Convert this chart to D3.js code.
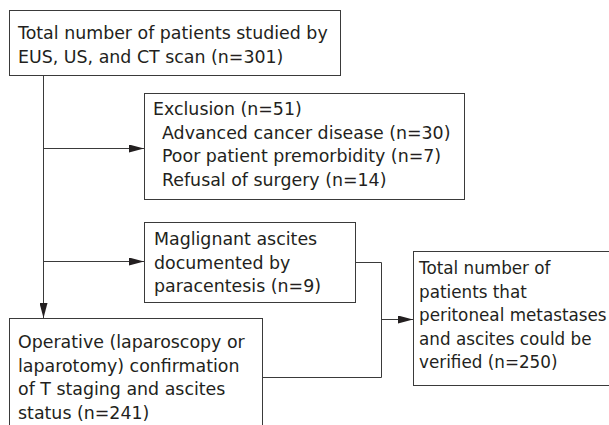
<!DOCTYPE html>
<html>
<head>
<meta charset="utf-8">
<script src="https://cdn.jsdelivr.net/npm/d3@7"></script>
<style>
  body { margin: 0; background: #fff; }
  text { font-family: "DejaVu Sans", sans-serif; font-size: 17.4px; fill: #231f20; }
  g.right text { font-size: 16.8px; }
</style>
</head>
<body>
<div id="canvas"></div>
<script>
// data
var totalStudied = 301;
var exclusionTotal = 51;
var exclusionReasons = ["Advanced cancer disease", "Poor patient premorbidity", "Refusal of surgery"];
var exclusionCounts = [30, 7, 14];
var ascitesCount = 9;
var operativeCount = 241;
var verifiedCount = 250;

var width = 609;
var height = 425;
var lineH = 23.5;

var svg = d3.select("#canvas").append("svg")
    .attr("width", width)
    .attr("height", height);

svg.append("defs").append("marker")
    .attr("id", "arrow")
    .attr("viewBox", "0 0 15 8")
    .attr("refX", 15).attr("refY", 4)
    .attr("markerWidth", 15).attr("markerHeight", 8)
    .attr("markerUnits", "userSpaceOnUse")
    .attr("orient", "auto")
  .append("path")
    .attr("d", "M0,0L15,4L0,8Z")
    .attr("fill", "#231f20");

// boxes (text built from data, placement here)
var boxes = [
  {x: 9, y: 10, w: 331, h: 65, tx: 18, ty: 39, lines: [
      {t: "Total number of patients studied by"},
      {t: "EUS, US, and CT scan (n=" + totalStudied + ")"}]},
  {x: 144, y: 93, w: 320, h: 106, tx: 153, ty: 115, lines:
      [{t: "Exclusion (n=" + exclusionTotal + ")"}].concat(
        exclusionReasons.map(function(r, i){ return {t: r + " (n=" + exclusionCounts[i] + ")", indent: 9}; }))},
  {x: 144, y: 222, w: 211, h: 80, tx: 154, ty: 245, lines: [
      {t: "Maglignant ascites"},
      {t: "documented by"},
      {t: "paracentesis (n=" + ascitesCount + ")"}]},
  {x: 9, y: 318, w: 253, h: 130, tx: 18, ty: 348, lines: [
      {t: "Operative (laparoscopy or"},
      {t: "laparotomy) confirmation"},
      {t: "of T staging and ascites"},
      {t: "status (n=" + operativeCount + ")"}]},
  {x: 413, y: 251, w: 240, h: 134, tx: 419, ty: 274, cls: "right", lines: [
      {t: "Total number of"},
      {t: "patients that"},
      {t: "peritoneal metastases"},
      {t: "and ascites could be"},
      {t: "verified (n=" + verifiedCount + ")"}]}
];

var g = svg.selectAll("g.box")
    .data(boxes)
    .enter().append("g")
    .attr("class", function(d){ return "box " + (d.cls || ""); });

g.append("rect")
    .attr("x", function(d){ return d.x + 0.5; })
    .attr("y", function(d){ return d.y + 0.5; })
    .attr("width", function(d){ return d.w; })
    .attr("height", function(d){ return d.h; })
    .attr("fill", "none")
    .attr("stroke", "#3a3a3a")
    .attr("stroke-width", 1);

g.each(function(d){
    d3.select(this).selectAll("text")
        .data(d.lines)
        .enter().append("text")
        .attr("x", function(l){ return d.tx + (l.indent || 0); })
        .attr("y", function(l, i){ return d.ty + i * lineH; })
        .text(function(l){ return l.t; });
});

// connectors
var line = d3.line();
var links = [
  {pts: [[43.5, 75], [43.5, 318]], arrow: true},
  {pts: [[43.5, 148.5], [144, 148.5]], arrow: true},
  {pts: [[43.5, 261.5], [144, 261.5]], arrow: true},
  {pts: [[355, 262.5], [381.5, 262.5], [381.5, 377.5], [262, 377.5]], arrow: false},
  {pts: [[381.5, 319.5], [413, 319.5]], arrow: true}
];

svg.selectAll("path.link")
    .data(links)
    .enter().append("path")
    .attr("class", "link")
    .attr("d", function(d){ return line(d.pts); })
    .attr("fill", "none")
    .attr("stroke", "#3a3a3a")
    .attr("stroke-width", 1)
    .attr("marker-end", function(d){ return d.arrow ? "url(#arrow)" : null; });
</script>
</body>
</html>
